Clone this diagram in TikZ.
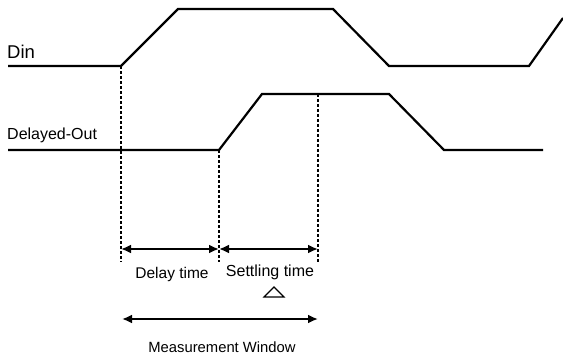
\documentclass[tikz,border=0pt]{standalone}
\usepackage{fontspec}
\setmainfont{Liberation Sans}
\usetikzlibrary{arrows.meta}
\begin{document}
\begin{tikzpicture}[x=1pt,y=-1pt,
  wave/.style={line width=2.2pt,line join=miter},
  marker/.style={line width=2.5pt,dash pattern=on 3pt off 2pt},
  span/.style={line width=2.2pt,{Latex[length=10pt,width=9pt]}-{Latex[length=10pt,width=9pt]}},
  lbl/.style={inner sep=0pt,font=\fontsize{15.5}{18}\selectfont}]
\useasboundingbox (0,0) rectangle (563,356);

% Din waveform
\coordinate (d0) at (8,66);
\coordinate (d1) at (121,66);
\coordinate (d2) at (178,9);
\coordinate (d3) at (333,9);
\coordinate (d4) at (389,66);
\coordinate (d5) at (529,66);
\coordinate (d6) at (563,18);
\draw[wave] (d0) -- (d1) -- (d2) -- (d3) -- (d4) -- (d5) -- (d6);

% Delayed output waveform
\coordinate (o0) at (8,150);
\coordinate (o1) at (219,150);
\coordinate (o2) at (262,94);
\coordinate (o3) at (389,94);
\coordinate (o4) at (444,150);
\coordinate (o5) at (543,150);
\draw[wave] (o0) -- (o1) -- (o2) -- (o3) -- (o4) -- (o5);

% Signal names
\node[lbl,anchor=west,font=\fontsize{18.5}{21}\selectfont] (din) at (7,52) {Din};
\node[lbl,anchor=west,font=\fontsize{16}{19}\selectfont] (dout) at (7,135) {Delayed-Out};

% Timing markers
\coordinate (m1) at (121,262);
\coordinate (m2) at (219,262);
\coordinate (s2) at (318,94);
\coordinate (m3) at (318,262);
\draw[marker] (d1) -- (m1);
\draw[marker] (o1) -- (m2);
\draw[marker] (s2) -- (m3);

% Interval arrows
\coordinate (a1) at (121,249);
\coordinate (a2) at (219,249);
\coordinate (a3) at (318,249);
\draw[span] (a1) -- (a2);
\draw[span] (a2) -- (a3);

\node[lbl] (delay) at (172,274) {Delay time};
\node[lbl,font=\fontsize{16}{19}\selectfont] (settle) at (270,272) {Settling time};

% Small open triangle under the settling label
\draw[line width=1.2pt] (274,287) -- (284,297) -- (264,297) -- cycle;

% Measurement window
\coordinate (w1) at (122,319);
\coordinate (w2) at (318,319);
\draw[span] (w1) -- (w2);
\node[lbl,font=\fontsize{14.8}{17}\selectfont] (window) at (222,347) {Measurement Window};
\end{tikzpicture}
\end{document}
